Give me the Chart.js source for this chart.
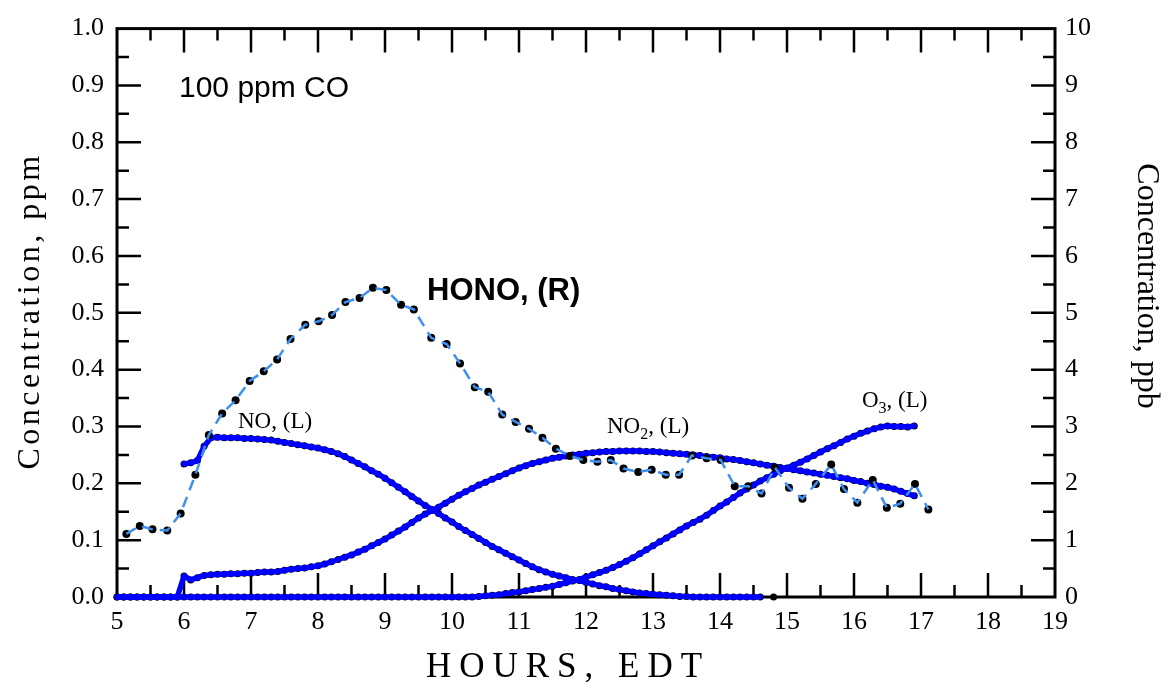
<!DOCTYPE html>
<html>
<head>
<meta charset="utf-8">
<script src="https://cdn.jsdelivr.net/npm/chart.js@4.4.1/dist/chart.umd.min.js"></script>
<style>
html, body { margin: 0; padding: 0; background: #fff; }
#wrap { width: 1174px; height: 682px; }
</style>
</head>
<body>
<div id="wrap"><canvas id="chart" width="1174" height="682"></canvas></div>
<script>
// hours, EDT (one reading every 0.1 h for the analyser traces)
var hoursAll = [
  5.0, 5.1, 5.2, 5.3, 5.4, 5.5, 5.6, 5.7, 5.8, 5.9,
  6.0, 6.1, 6.2, 6.3, 6.4, 6.5, 6.6, 6.7, 6.8, 6.9,
  7.0, 7.1, 7.2, 7.3, 7.4, 7.5, 7.6, 7.7, 7.8, 7.9,
  8.0, 8.1, 8.2, 8.3, 8.4, 8.5, 8.6, 8.7, 8.8, 8.9,
  9.0, 9.1, 9.2, 9.3, 9.4, 9.5, 9.6, 9.7, 9.8, 9.9,
  10.0, 10.1, 10.2, 10.3, 10.4, 10.5, 10.6, 10.7, 10.8, 10.9,
  11.0, 11.1, 11.2, 11.3, 11.4, 11.5, 11.6, 11.7, 11.8, 11.9,
  12.0, 12.1, 12.2, 12.3, 12.4, 12.5, 12.6, 12.7, 12.8, 12.9,
  13.0, 13.1, 13.2, 13.3, 13.4, 13.5, 13.6, 13.7, 13.8, 13.9,
  14.0, 14.1, 14.2, 14.3, 14.4, 14.5, 14.6, 14.7, 14.8, 14.9,
  15.0, 15.1, 15.2, 15.3, 15.4, 15.5, 15.6, 15.7, 15.8, 15.9,
  16.0, 16.1, 16.2, 16.3, 16.4, 16.5, 16.6, 16.7, 16.8, 16.9
];
var hoursNO = [
  6.0, 6.1, 6.2, 6.3, 6.4, 6.5, 6.6, 6.7, 6.8, 6.9,
  7.0, 7.1, 7.2, 7.3, 7.4, 7.5, 7.6, 7.7, 7.8, 7.9,
  8.0, 8.1, 8.2, 8.3, 8.4, 8.5, 8.6, 8.7, 8.8, 8.9,
  9.0, 9.1, 9.2, 9.3, 9.4, 9.5, 9.6, 9.7, 9.8, 9.9,
  10.0, 10.1, 10.2, 10.3, 10.4, 10.5, 10.6, 10.7, 10.8, 10.9,
  11.0, 11.1, 11.2, 11.3, 11.4, 11.5, 11.6, 11.7, 11.8, 11.9,
  12.0, 12.1, 12.2, 12.3, 12.4, 12.5, 12.6, 12.7, 12.8, 12.9,
  13.0, 13.1, 13.2, 13.3, 13.4, 13.5, 13.6, 13.7, 13.8, 13.9,
  14.0, 14.1, 14.2, 14.3, 14.4, 14.5, 14.6
];

// NO, ppm (left axis)
var noPpm = [
  0.234, 0.236, 0.240, 0.265, 0.280, 0.281, 0.280, 0.280, 0.280, 0.279,
  0.279, 0.278, 0.277, 0.276, 0.274, 0.272, 0.270, 0.268, 0.266, 0.264,
  0.262, 0.259, 0.256, 0.252, 0.247, 0.241, 0.235, 0.229, 0.222, 0.216,
  0.209, 0.201, 0.193, 0.185, 0.177, 0.169, 0.161, 0.154, 0.147, 0.139,
  0.132, 0.124, 0.117, 0.110, 0.103, 0.096, 0.089, 0.083, 0.077, 0.071,
  0.065, 0.059, 0.053, 0.048, 0.044, 0.040, 0.037, 0.034, 0.031, 0.029,
  0.026, 0.023, 0.020, 0.018, 0.015, 0.013, 0.011, 0.009, 0.007, 0.006,
  0.005, 0.004, 0.003, 0.002, 0.001, 0.001, 0, 0, 0, 0,
  0, 0, 0, 0, 0, 0, 0
];
// stray NO reading after the trace stops
var noTailHours = [14.8];
var noTailPpm = [0];

// NO2, ppm (left axis)
var no2Ppm = [
  0, 0, 0, 0, 0, 0, 0, 0, 0, 0,
  0.037, 0.030, 0.034, 0.038, 0.039, 0.040, 0.040, 0.041, 0.041, 0.042,
  0.042, 0.043, 0.044, 0.044, 0.045, 0.047, 0.049, 0.050, 0.051, 0.053,
  0.055, 0.058, 0.062, 0.066, 0.070, 0.074, 0.079, 0.084, 0.090, 0.096,
  0.102, 0.109, 0.116, 0.123, 0.131, 0.139, 0.146, 0.152, 0.158, 0.165,
  0.172, 0.179, 0.185, 0.191, 0.197, 0.202, 0.207, 0.212, 0.217, 0.222,
  0.227, 0.231, 0.235, 0.238, 0.241, 0.244, 0.246, 0.248, 0.250, 0.251,
  0.253, 0.254, 0.255, 0.256, 0.256, 0.257, 0.257, 0.257, 0.257, 0.256,
  0.256, 0.255, 0.254, 0.253, 0.252, 0.251, 0.250, 0.249, 0.247, 0.246,
  0.245, 0.243, 0.242, 0.240, 0.238, 0.236, 0.234, 0.232, 0.230, 0.228,
  0.226, 0.224, 0.222, 0.220, 0.218, 0.216, 0.214, 0.212, 0.210, 0.208,
  0.205, 0.203, 0.200, 0.198, 0.195, 0.193, 0.190, 0.186, 0.182, 0.178
];

// O3, ppm (left axis)
var o3Ppm = [
  0, 0, 0, 0, 0, 0, 0, 0, 0, 0,
  0, 0, 0, 0, 0, 0, 0, 0, 0, 0,
  0, 0, 0, 0, 0, 0, 0, 0, 0, 0,
  0, 0, 0, 0, 0, 0, 0, 0, 0, 0,
  0, 0, 0, 0, 0, 0, 0, 0, 0, 0,
  0, 0, 0, 0, 0.001, 0.002, 0.003, 0.004, 0.006, 0.008,
  0.009, 0.011, 0.013, 0.015, 0.017, 0.019, 0.022, 0.025, 0.028, 0.031,
  0.035, 0.039, 0.043, 0.047, 0.052, 0.057, 0.063, 0.069, 0.076, 0.083,
  0.090, 0.097, 0.104, 0.111, 0.118, 0.125, 0.131, 0.137, 0.144, 0.152,
  0.160, 0.167, 0.175, 0.183, 0.190, 0.197, 0.204, 0.210, 0.216, 0.222,
  0.227, 0.232, 0.237, 0.243, 0.249, 0.255, 0.261, 0.266, 0.272, 0.278,
  0.283, 0.288, 0.292, 0.296, 0.299, 0.301, 0.300, 0.300, 0.299, 0.301
];

// HONO, ppb (right axis)
var honoHours = [
  5.14, 5.34, 5.53, 5.75, 5.95, 6.17, 6.37, 6.57, 6.77, 6.98,
  7.19, 7.39, 7.59, 7.81, 8.01, 8.21, 8.41, 8.62, 8.82, 9.02,
  9.24, 9.43, 9.69, 9.92, 10.12, 10.34, 10.54, 10.75, 10.95, 11.15,
  11.35, 11.55, 11.76, 11.96, 12.17, 12.37, 12.56, 12.78, 12.98, 13.19,
  13.39, 13.58, 13.80, 14.01, 14.22, 14.42, 14.62, 14.82, 15.03, 15.23,
  15.43, 15.66, 15.85, 16.05, 16.28, 16.49, 16.69, 16.91, 17.11
];
var honoPpb = [
  1.11, 1.25, 1.19, 1.17, 1.47, 2.15, 2.85, 3.23, 3.46, 3.80,
  3.97, 4.18, 4.54, 4.79, 4.85, 4.96, 5.19, 5.26, 5.44, 5.40,
  5.14, 5.06, 4.56, 4.45, 4.11, 3.69, 3.61, 3.21, 3.08, 2.96,
  2.80, 2.61, 2.48, 2.41, 2.38, 2.41, 2.26, 2.20, 2.24, 2.15,
  2.15, 2.49, 2.44, 2.41, 1.95, 1.95, 1.82, 2.28, 1.92, 1.73,
  1.99, 2.33, 1.90, 1.66, 2.06, 1.57, 1.64, 1.99, 1.54
];

var xTicks = [5, 6, 7, 8, 9, 10, 11, 12, 13, 14, 15, 16, 17, 18, 19];
var leftTicks = ['0.0', '0.1', '0.2', '0.3', '0.4', '0.5', '0.6', '0.7', '0.8', '0.9', '1.0'];
var rightTicks = ['0', '1', '2', '3', '4', '5', '6', '7', '8', '9', '10'];

var BLUE = '#0000ff';
var HONO_BLUE = '#3d8ff0';
var SERIF = '"Liberation Serif", "Times New Roman", serif';
var SANS = '"Liberation Sans", Arial, sans-serif';

function pairs(xs, ys) {
    var out = [];
    for (var i = 0; i < xs.length; i++)
        out.push({x: xs[i], y: ys[i]});
    return out;
}

// black sample dots sit under the thick trace
function dots(xs, ys, axis, r) {
    return {
        data: pairs(xs, ys), yAxisID: axis, showLine: false,
        pointRadius: r, pointBackgroundColor: '#000', pointBorderWidth: 0,
        clip: false, order: 10
    };
}
function trace(xs, ys, axis) {
    return {
        data: pairs(xs, ys), yAxisID: axis, borderColor: BLUE, borderWidth: 5.5,
        pointRadius: 0, borderJoinStyle: 'round', borderCapStyle: 'round',
        tension: 0, clip: false, order: 5
    };
}

// frame and inward tick marks, drawn under the data
var frameTicks = {
    id: 'frameTicks',
    beforeDatasetsDraw: function(chart) {
        var ctx = chart.ctx, a = chart.chartArea;
        var sx = chart.scales.x, sy = chart.scales.y;
        ctx.save();
        ctx.strokeStyle = '#000';
        ctx.lineWidth = 2.5;
        ctx.beginPath();
        for (var i = 1; i < 28; i++) {
            var px = sx.getPixelForValue(5 + i * 0.5);
            var len = i % 2 === 0 ? 24 : 12;
            ctx.moveTo(px, a.bottom); ctx.lineTo(px, a.bottom - len);
            ctx.moveTo(px, a.top); ctx.lineTo(px, a.top + len);
        }
        for (var j = 1; j < 20; j++) {
            var py = sy.getPixelForValue(j * 0.05);
            var l2 = j % 2 === 0 ? 24 : 12;
            ctx.moveTo(a.left, py); ctx.lineTo(a.left + l2, py);
            ctx.moveTo(a.right, py); ctx.lineTo(a.right - l2, py);
        }
        ctx.stroke();
        ctx.lineWidth = 3;
        ctx.strokeRect(a.left, a.top, a.right - a.left, a.bottom - a.top);
        ctx.restore();
    }
};

function subLabel(ctx, x, y, main, sub, rest, size) {
    ctx.font = size + 'px ' + SERIF;
    ctx.fillText(main, x, y);
    x += ctx.measureText(main).width;
    ctx.font = Math.round(size * 0.7) + 'px ' + SERIF;
    ctx.fillText(sub, x, y + size * 0.25);
    x += ctx.measureText(sub).width;
    ctx.font = size + 'px ' + SERIF;
    ctx.fillText(rest, x, y);
}

// axis titles and in-plot labels
var labels = {
    id: 'labels',
    afterDraw: function(chart) {
        var ctx = chart.ctx;
        ctx.save();
        ctx.fillStyle = '#000';
        ctx.textBaseline = 'alphabetic';

        ctx.save();
        ctx.translate(39, 311);
        ctx.rotate(-Math.PI / 2);
        ctx.textAlign = 'center';
        ctx.font = '32px ' + SERIF;
        ctx.letterSpacing = '3.5px';
        ctx.fillText('Concentration, ppm', 0, 0);
        ctx.restore();

        ctx.save();
        ctx.translate(1138, 286);
        ctx.rotate(Math.PI / 2);
        ctx.textAlign = 'center';
        ctx.font = '32px ' + SERIF;
        ctx.fillText('Concentration, ppb', 0, 0);
        ctx.restore();

        ctx.save();
        ctx.textAlign = 'center';
        ctx.font = '35px ' + SERIF;
        ctx.letterSpacing = '8px';
        ctx.fillText('HOURS, EDT', 568, 677);
        ctx.restore();

        ctx.textAlign = 'left';
        ctx.font = '30px ' + SANS;
        ctx.fillText('100 ppm CO', 179, 97);
        ctx.font = 'bold 31px ' + SANS;
        ctx.fillText('HONO, (R)', 427, 300);

        ctx.font = '23px ' + SERIF;
        ctx.fillText('NO, (L)', 238, 428);
        subLabel(ctx, 607, 433, 'NO', '2', ', (L)', 23);
        subLabel(ctx, 862, 407, 'O', '3', ', (L)', 23);
        ctx.restore();
    }
};

var tickFont = {family: SERIF, size: 26};

new Chart(document.getElementById('chart'), {
    type: 'line',
    data: {
        datasets: [
            trace(hoursAll, no2Ppm, 'y'),
            trace(hoursAll, o3Ppm, 'y'),
            trace(hoursNO, noPpm, 'y'),
            dots(hoursAll, no2Ppm, 'y', 3.5),
            dots(hoursAll, o3Ppm, 'y', 3.5),
            dots(hoursNO, noPpm, 'y', 3.5),
            dots(noTailHours, noTailPpm, 'y', 3.5),
            {
                data: pairs(honoHours, honoPpb), yAxisID: 'y2',
                borderColor: HONO_BLUE, borderWidth: 2.5, borderDash: [11, 7],
                pointRadius: 0, tension: 0, clip: false, order: 1
            },
            Object.assign(dots(honoHours, honoPpb, 'y2', 4), {order: 2})
        ]
    },
    options: {
        responsive: false,
        animation: false,
        devicePixelRatio: 1,
        layout: {padding: {top: 22, left: 0, right: 0, bottom: 0}},
        plugins: {legend: {display: false}, tooltip: {enabled: false}},
        scales: {
            x: {
                type: 'linear', position: 'bottom', min: 5, max: 19,
                grid: {display: false, drawTicks: false}, border: {display: false},
                afterBuildTicks: function(s) { s.ticks = xTicks.map(function(v) { return {value: v}; }); },
                ticks: {font: tickFont, color: '#000', padding: 10, maxRotation: 0, autoSkip: false},
                afterFit: function(s) { s.height = 85; }
            },
            y: {
                type: 'linear', position: 'left', min: 0, max: 1,
                grid: {display: false, drawTicks: false}, border: {display: false},
                afterBuildTicks: function(s) { s.ticks = leftTicks.map(function(v, i) { return {value: i / 10}; }); },
                ticks: {font: tickFont, color: '#000', padding: 13,
                    callback: function(v, i) { return leftTicks[i]; }},
                afterFit: function(s) { s.width = 117; }
            },
            y2: {
                type: 'linear', position: 'right', min: 0, max: 10,
                grid: {display: false, drawTicks: false}, border: {display: false},
                afterBuildTicks: function(s) { s.ticks = rightTicks.map(function(v, i) { return {value: i}; }); },
                ticks: {font: tickFont, color: '#000', padding: 10,
                    callback: function(v, i) { return rightTicks[i]; }},
                afterFit: function(s) { s.width = 119; }
            }
        }
    },
    plugins: [frameTicks, labels]
});
</script>
</body>
</html>
